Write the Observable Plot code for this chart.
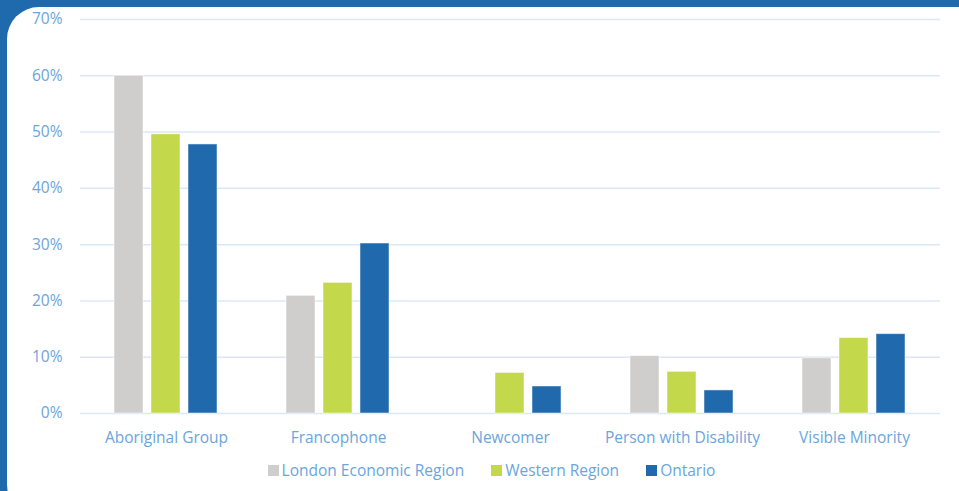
<!DOCTYPE html>
<html>
<head>
<meta charset="utf-8">
<script src="https://cdn.jsdelivr.net/npm/d3@7"></script>
<script src="https://cdn.jsdelivr.net/npm/@observablehq/plot@0.6"></script>
<style>
  html, body { margin: 0; padding: 0; width: 959px; height: 491px; overflow: hidden; background: #1f69ad; font-family: "Open Sans", sans-serif; }
  #panel { position: absolute; left: 7px; top: 7px; width: 985px; height: 510px; background: #fff; border-radius: 32px; }
  #chart { position: absolute; left: 0; top: 0; }
  #legend { position: absolute; left: 0; top: 459px; width: 983px; display: flex; justify-content: center; gap: 27px; font-size: 15.5px; color: #6aa5dd; }
  #legend span.item { display: inline-flex; align-items: center; gap: 3px; }
  #legend span.sw { display: inline-block; width: 11px; height: 11px; }
</style>
</head>
<body>
<div id="panel"></div>
<div id="chart"></div>
<div id="legend"></div>
<script>
const categories = ["Aboriginal Group", "Francophone", "Newcomer", "Person with Disability", "Visible Minority"];
const seriesNames = ["London Economic Region", "Western Region", "Ontario"];
const seriesColors = ["#d0cecc", "#c3d84a", "#1f69ac"];
const londonValues = [60.0, 20.9, 0, 10.2, 9.8];
const westernValues = [49.6, 23.2, 7.2, 7.4, 13.4];
const ontarioValues = [47.8, 30.2, 4.8, 4.1, 14.1];
const yTicks = [0, 10, 20, 30, 40, 50, 60, 70];

const allValues = [londonValues, westernValues, ontarioValues];
const data = [];
categories.forEach((c, i) => {
  seriesNames.forEach((s, j) => {
    data.push({category: c, series: s, value: allValues[j][i]});
  });
});

const textColor = "#6aa5dd";
const chart = Plot.plot({
  width: 959,
  height: 450,
  marginLeft: 80,
  marginRight: 19,
  marginTop: 19,
  marginBottom: 37,
  style: {fontFamily: "Open Sans, sans-serif", fontSize: "15.5px", color: textColor, background: "transparent"},
  fx: {domain: categories, padding: 0, label: null, tickSize: 0, tickPadding: 18},
  x: {domain: seriesNames, axis: null, paddingInner: 0.21, paddingOuter: 0.87},
  y: {domain: [0, 70], ticks: yTicks, tickFormat: d => d + "%", label: null, tickSize: 0, tickPadding: 18},
  color: {domain: seriesNames, range: seriesColors},
  marks: [
    Plot.ruleY(yTicks, {stroke: "#dae8f6", strokeWidth: 1.5}),
    Plot.barY(data, {fx: "category", x: "series", y: "value", fill: "series", stroke: "#ffffff", strokeOpacity: 0.5, strokeWidth: 1})
  ]
});
chart.querySelectorAll("text").forEach(t => t.setAttribute("fill", textColor));
document.getElementById("chart").appendChild(chart);

const legend = document.getElementById("legend");
seriesNames.forEach((s, j) => {
  const item = document.createElement("span");
  item.className = "item";
  const sw = document.createElement("span");
  sw.className = "sw";
  sw.style.background = seriesColors[j];
  const lab = document.createElement("span");
  lab.textContent = s;
  item.appendChild(sw);
  item.appendChild(lab);
  legend.appendChild(item);
});
</script>
</body>
</html>
